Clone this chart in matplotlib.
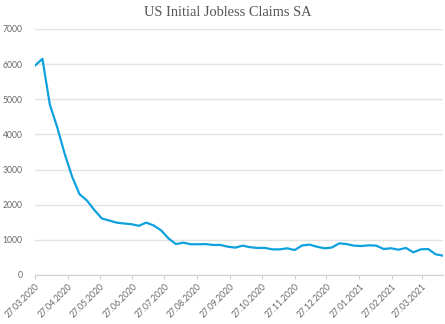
import matplotlib
matplotlib.use("Agg")
import matplotlib.pyplot as plt
import pandas as pd

start_date = "2020-03-27"
claims = [5960, 6150, 4850, 4200, 3450, 2800, 2300, 2120, 1850, 1610,
          1550, 1490, 1465, 1445, 1400, 1490, 1410, 1270, 1040, 880,
          920, 875, 875, 880, 855, 855, 805, 780, 835, 790,
          770, 770, 730, 730, 760, 710, 840, 865, 805, 760,
          780, 900, 880, 835, 825, 845, 835, 740, 760, 720,
          770, 645, 730, 740, 590, 550]
dates = pd.date_range(start_date, periods=len(claims), freq="7D")
tick_dates = [pd.Timestamp("2020-03-27") + pd.DateOffset(months=m) for m in range(13)]
tick_labels = [d.strftime("%d.%m.%Y") for d in tick_dates]
y_ticks = [0, 1000, 2000, 3000, 4000, 5000, 6000, 7000]
title = "US Initial Jobless Claims SA"

fig = plt.figure(figsize=(4.45, 3.24), dpi=100)
ax = fig.add_axes([35/445, 1-275/324, (443-35)/445, (275-29)/324])
ax.plot(dates, claims, color="#0ea1de", lw=1.6, solid_joinstyle="round")
ax.set_xlim(dates[0], dates[-1])
ax.set_ylim(0, 7000)
ax.set_yticks(y_ticks)
ax.set_yticklabels([str(v) for v in y_ticks], fontsize=6.2, color="#666666", family="Lato")
ax.grid(axis="y", color="#e3e3e3", lw=1)
ax.set_axisbelow(True)
ax.set_xticks(tick_dates)
ax.set_xticklabels(tick_labels, rotation=45, ha="right", rotation_mode="anchor",
                   fontsize=6.2, color="#666666", family="Lato")
ax.tick_params(axis="y", length=0, pad=9)
ax.tick_params(axis="x", length=3, color="#cccccc", pad=2)
for s in ["top", "right", "left"]:
    ax.spines[s].set_visible(False)
ax.spines["bottom"].set_color("#d0d0d0")
fig.text(228/445, 1-12/324, title, ha="center", va="center", fontsize=10.4,
         color="#555555", family="Liberation Serif")
fig.savefig("out.png", dpi=100)
